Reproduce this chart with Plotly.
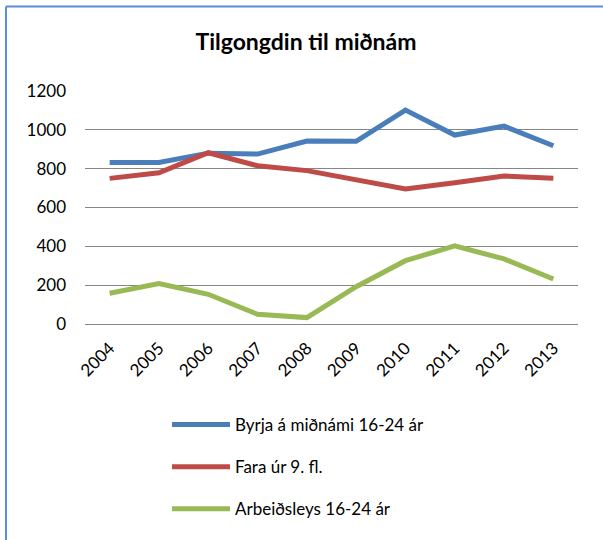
import plotly.graph_objects as go

years = ["2004", "2005", "2006", "2007", "2008", "2009", "2010", "2011", "2012", "2013"]
byrja = [832, 832, 880, 875, 942, 941, 1102, 973, 1019, 918]
fara = [750, 779, 882, 815, 790, 742, 695, 728, 762, 750]
arbeidsleys = [158, 208, 153, 50, 33, 192, 326, 402, 335, 232]

names = ["Byrja á miðnámi 16-24 ár", "Fara úr 9. fl.", "Arbeiðsleys 16-24 ár"]
colors = ["#4A7EBB", "#BE4B48", "#98B954"]
series = [byrja, fara, arbeidsleys]

FONT = "Lato"

fig = go.Figure()
for i, (nm, col, vals) in enumerate(zip(names, colors, series)):
    fig.add_trace(go.Scatter(
        x=years, y=vals, mode="lines", name=nm,
        line=dict(color=col, width=5),
        legendgroup=f"g{i}",
    ))

L, R, T, B = 85, 25, 91, 216
W, H = 603, 540
pw = W - L - R
ph = H - T - B

def px_x(p):
    return (p - L) / pw

def px_y(p):
    return (H - B - p) / ph

fig.update_layout(
    width=W, height=H,
    margin=dict(l=L, r=R, t=T, b=B, pad=0, autoexpand=False),
    paper_bgcolor="white", plot_bgcolor="white",
    font=dict(family=FONT, size=17, color="#000000"),
    title=dict(text="<b>Tilgongdin til miðnám</b>", x=306 / W, xref="container", xanchor="center",
               y=1 - 42 / H, yref="container", yanchor="middle",
               font=dict(family=FONT, size=23, color="#000000")),
    showlegend=True,
    legend=dict(x=167 / W, xref="container", xanchor="left",
                y=1 - 407 / H, yref="container", yanchor="top",
                orientation="v", traceorder="grouped", tracegroupgap=17,
                itemwidth=58, font=dict(family=FONT, size=17),
                bgcolor="rgba(0,0,0,0)"),
    xaxis=dict(type="category", range=[-0.5, 9.5], showgrid=False, showline=False,
               ticks="", tickangle=-45, tickfont=dict(family=FONT, size=17),
               ticklabelstandoff=10, zeroline=False, automargin=False),
    yaxis=dict(range=[0, 1200], dtick=200, showgrid=True, gridcolor="#868686", gridwidth=1,
               zeroline=True, zerolinecolor="#868686", zerolinewidth=1,
               showline=False, ticks="", ticklabelstandoff=18, automargin=False,
               tickfont=dict(family=FONT, size=17)),
    shapes=[
        dict(type="line", xref="paper", yref="paper", x0=px_x(6), x1=px_x(640),
             y0=px_y(6.5), y1=px_y(6.5), line=dict(color="#5B8ED6", width=2)),
        dict(type="line", xref="paper", yref="paper", x0=px_x(6), x1=px_x(6),
             y0=px_y(6.5), y1=px_y(600), line=dict(color="#5B8ED6", width=2)),
    ],
)

fig.write_html("out.html", config={"displayModeBar": False},
               post_script="document.body.style.margin='0';")
